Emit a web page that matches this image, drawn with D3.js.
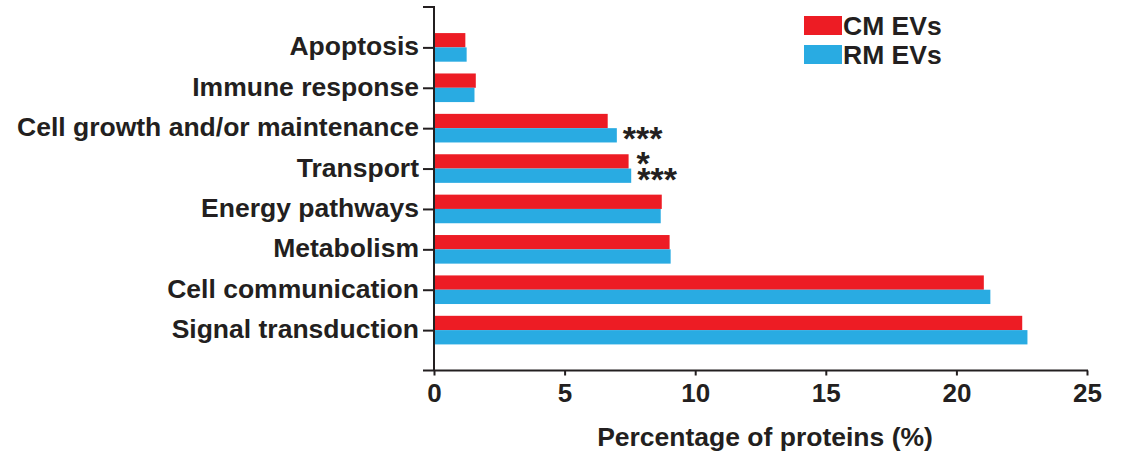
<!DOCTYPE html>
<html>
<head>
<meta charset="utf-8">
<script src="https://cdn.jsdelivr.net/npm/d3@7"></script>
<style>
  html, body { margin: 0; padding: 0; background: #fff; }
  svg { display: block; }
  text { font-family: Arial, "Liberation Sans", Helvetica, sans-serif; font-weight: bold; fill: #231f20; }
</style>
</head>
<body>
<svg id="chart" width="1126" height="451"></svg>
<script>
// Functional categories of EV proteins, top to bottom
const categories = [
  "Apoptosis",
  "Immune response",
  "Cell growth and/or maintenance",
  "Transport",
  "Energy pathways",
  "Metabolism",
  "Cell communication",
  "Signal transduction"
];
const seriesNames = ["CM EVs", "RM EVs"];
const cmValues = [1.2, 1.6, 6.65, 7.45, 8.72, 9.02, 21.05, 22.52];
const rmValues = [1.25, 1.55, 7.0, 7.55, 8.68, 9.06, 21.3, 22.72];
const xTicks = [0, 5, 10, 15, 20, 25];
// Significance marks: [category, series index, label]
const significance = [
  ["Cell growth and/or maintenance", 1, "***"],
  ["Transport", 0, "*"],
  ["Transport", 1, "***"]
];
const colors = ["#ed1c24", "#29abe2"];
const ink = "#231f20";

const svg = d3.select("#chart");

const x = d3.scaleLinear().domain([0, 25]).range([434, 1087]);
const y = d3.scalePoint().domain(categories).range([7, 370.5]).padding(1);
const barH = 14.3;
const values = [cmValues, rmValues];

// Bars: CM above the category line, RM below it
const bars = svg.append("g");
values.forEach((vals, s) => {
  bars.selectAll(null)
    .data(categories.map((c, i) => ({ c, v: vals[i] })))
    .join("rect")
    .attr("x", x(0) + 1)
    .attr("y", d => y(d.c) + (s === 0 ? -barH : 0))
    .attr("width", d => x(d.v) - x(0) - 1)
    .attr("height", barH)
    .attr("fill", colors[s]);
});

// Significance asterisks next to the bar ends
svg.append("g").selectAll("text")
  .data(significance)
  .join("text")
  .attr("x", d => x(values[d[1]][categories.indexOf(d[0])]) + (d[2] === "*" ? 8 : 6))
  .attr("y", d => y(d[0]) + (d[1] === 0 ? -barH / 2 : barH / 2 + 1) + 14)
  .attr("font-size", 34)
  .text(d => d[2]);

// Y axis
const yAxis = d3.axisLeft(y).tickSize(11).tickPadding(4).tickSizeOuter(0);
const gy = svg.append("g").attr("transform", `translate(${x(0)},0)`).call(yAxis);
gy.select(".domain").remove();
gy.selectAll(".tick line").attr("stroke", ink).attr("stroke-width", 2);
gy.selectAll(".tick text")
  .attr("font-size", 26.5)
  .attr("fill", ink)
  .attr("font-family", null)
  .attr("dy", null)
  .attr("y", 7.5);
// vertical axis line with a capped top
svg.append("path")
  .attr("d", `M${x(0) - 11},7H${x(0)}V371`)
  .attr("fill", "none").attr("stroke", ink).attr("stroke-width", 2);

// X axis
const xAxis = d3.axisBottom(x).tickValues(xTicks).tickSize(5).tickPadding(6).tickSizeOuter(0);
const gx = svg.append("g").attr("transform", "translate(0,370.5)").call(xAxis);
gx.select(".domain").remove();
gx.selectAll(".tick line").attr("stroke", ink).attr("stroke-width", 2);
gx.selectAll(".tick text")
  .attr("font-size", 26)
  .attr("fill", ink)
  .attr("font-family", null)
  .attr("dy", null)
  .attr("y", 31);
svg.append("line")
  .attr("x1", x(0) - 11).attr("x2", x(25) + 1)
  .attr("y1", 370.5).attr("y2", 370.5)
  .attr("stroke", ink).attr("stroke-width", 2);

// Axis title
svg.append("text")
  .attr("x", 765).attr("y", 446)
  .attr("text-anchor", "middle")
  .attr("font-size", 26.5)
  .text("Percentage of proteins (%)");

// Legend
const legend = svg.append("g").attr("transform", "translate(804,16)");
seriesNames.forEach((name, i) => {
  const g = legend.append("g").attr("transform", `translate(0,${i * 29})`);
  g.append("rect").attr("width", 38).attr("height", 19).attr("fill", colors[i]);
  g.append("text").attr("x", 39).attr("y", 18.5).attr("font-size", 26.5).text(name);
});
</script>
</body>
</html>
